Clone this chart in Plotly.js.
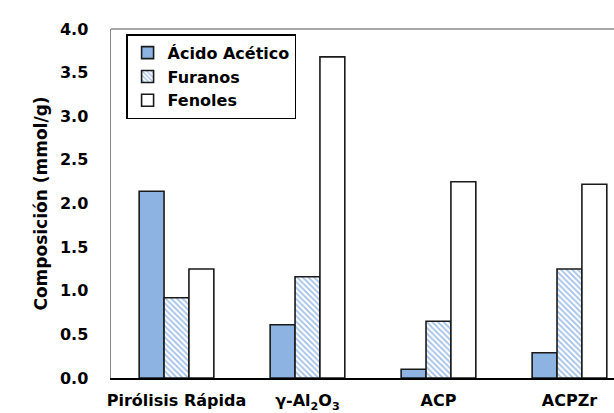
<!DOCTYPE html>
<html>
<head>
<meta charset="utf-8">
<script src="https://cdn.plot.ly/plotly-3.0.1.min.js"></script>
<style>html,body{margin:0;padding:0;overflow:hidden;background:#fff;}</style>
</head>
<body>
<div id="chart" style="width:614px;height:413px;"></div>
<script>
const categories = ["Pirólisis Rápida", "γ-Al<sub>2</sub>O<sub>3</sub>", "ACP", "ACPZr"];
const acidoAcetico = [2.14, 0.61, 0.10, 0.29];
const furanos = [0.92, 1.16, 0.65, 1.25];
const fenoles = [1.25, 3.68, 2.25, 2.22];
const seriesNames = ["Ácido Acético", "Furanos", "Fenoles"];

const FAM = "DejaVu Sans, Liberation Sans, Arial, sans-serif";
const lineStyle = {color: "#1a1a1a", width: 1.6};
const traces = [
  {type: "bar", name: seriesNames[0], x: categories, y: acidoAcetico,
   marker: {color: "#8db3e2", line: lineStyle}},
  {type: "bar", name: seriesNames[1], x: categories, y: furanos,
   marker: {color: "#ffffff", line: lineStyle,
            pattern: {shape: "\\", fgcolor: "#9dbde8", bgcolor: "#ffffff", size: 4, solidity: 0.4}}},
  {type: "bar", name: seriesNames[2], x: categories, y: fenoles,
   marker: {color: "#ffffff", line: lineStyle}}
];

const layout = {
  width: 614, height: 413,
  margin: {l: 111, r: 0, t: 29, b: 35},
  paper_bgcolor: "#fff", plot_bgcolor: "#fff",
  font: {family: FAM, size: 16, color: "#000"},
  barmode: "group", bargap: 0.43, bargroupgap: 0,
  showlegend: true,
  legend: {x: 0.03, y: 0.985, xanchor: "left", yanchor: "top",
           bordercolor: "#000", borderwidth: 1.5, bgcolor: "#fff",
           font: {family: FAM, size: 16, color: "#000", weight: "bold"},
           tracegroupgap: 0, itemwidth: 30},
  xaxis: {type: "category", range: [-0.5, 3.34], showline: true, linecolor: "#000", linewidth: 2,
          ticks: "", showgrid: false, zeroline: false, ticklabelstandoff: 7,
          tickfont: {family: FAM, size: 16, color: "#000", weight: "bold"}},
  yaxis: {range: [0, 4.0], dtick: 0.5, tickformat: ".1f", showline: true, linecolor: "#888", linewidth: 1.5,
          ticks: "", showgrid: false, zeroline: false, ticklabelstandoff: 18,
          tickfont: {family: FAM, size: 16, color: "#000", weight: "bold"},
          title: {text: "Composición (mmol/g)", standoff: 8,
                  font: {family: FAM, size: 17, color: "#000", weight: "bold"}}},
  shapes: [{type: "line", xref: "paper", yref: "paper", x0: 0, x1: 1, y0: 1, y1: 1,
            line: {color: "#888", width: 1.5}}]
};
Plotly.newPlot("chart", traces, layout, {displayModeBar: false, staticPlot: true});
</script>
</body>
</html>
